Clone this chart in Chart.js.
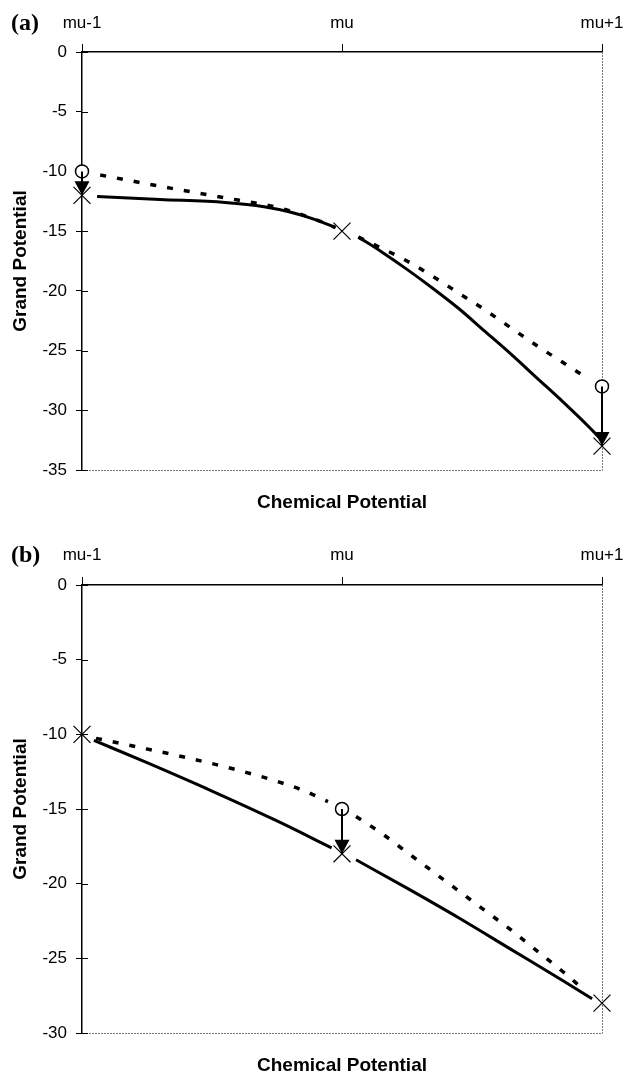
<!DOCTYPE html>
<html><head><meta charset="utf-8">
<script src="https://cdn.jsdelivr.net/npm/chart.js@4.4.1/dist/chart.umd.min.js"></script>
<style>
html,body{margin:0;padding:0;background:#fff;width:632px;height:1074px;overflow:hidden}
.panel{position:absolute;left:0;width:632px;height:537px}
.lab{position:absolute;font:bold 24px/24px "Liberation Serif","Times New Roman",serif;color:#000}
</style></head><body>
<div class="panel" style="top:0"><canvas id="ca" width="632" height="537"></canvas></div>
<div class="panel" style="top:537px"><canvas id="cb" width="632" height="537"></canvas></div>
<div class="lab" style="left:11px;top:10px">(a)</div>
<div class="lab" style="left:11px;top:542px">(b)</div>
<script>
// ---------- data ----------
const categories = ['mu-1', 'mu', 'mu+1'];
const xTitle = 'Chemical Potential';
const yTitle = 'Grand Potential';

// panel (a)
const yMinA = -35, yMaxA = 0, yStepA = 5;
const solidA_x = [0.058, 0.30, 0.55, 0.70, 0.80, 0.90, 0.975, 1.0, 1.063, 1.15, 1.25, 1.35, 1.45, 1.55, 1.65, 1.75, 1.85, 1.95, 1.99];
const solidA_y = [-12.1, -12.35, -12.6, -12.95, -13.4, -14.05, -14.7, null, -15.5, -16.7, -18.2, -19.8, -21.5, -23.4, -25.3, -27.3, -29.3, -31.4, -32.3];
const dotA_x = [0.07, 0.34, 0.60, 0.75, 0.92, 0.975, 1.0, 1.063, 1.15, 1.25, 1.35, 1.45, 1.55, 1.65, 1.75, 1.85, 1.95];
const dotA_y = [-10.3, -11.4, -12.4, -13.0, -14.2, -14.7, null, -15.5, -16.4, -17.5, -18.8, -20.2, -21.6, -23.1, -24.6, -26.0, -27.4];
const crossA_x = [0, 1, 2];
const crossA_y = [-12, -15, -33];
const circleA_x = [0, 2];
const circleA_y = [-10, -28];
const arrowA_x = [0, 2];
const arrowA_from = [-10, -28];
const arrowA_to = [-12, -33];

// panel (b)
const yMinB = -30, yMaxB = 0, yStepB = 5;
const solidB_x = [0.046, 0.25, 0.50, 0.75, 0.96, 1.0, 1.054, 1.25, 1.45, 1.65, 1.85, 1.962];
const solidB_y = [-10.4, -11.9, -13.8, -15.8, -17.6, null, -18.4, -20.3, -22.3, -24.4, -26.5, -27.7];
const dotB_x = [0.054, 0.20, 0.40, 0.60, 0.75, 0.85, 0.946, 1.0, 1.054, 1.15, 1.25, 1.35, 1.45, 1.55, 1.65, 1.75, 1.85, 1.93];
const dotB_y = [-10.27, -10.8, -11.55, -12.4, -13.15, -13.75, -14.5, null, -15.5, -16.6, -17.9, -19.2, -20.5, -21.8, -23.1, -24.5, -25.9, -27.1];
const crossB_x = [0, 1, 2];
const crossB_y = [-10, -18, -28];
const circleB_x = [1];
const circleB_y = [-15];
const arrowB_x = [1];
const arrowB_from = [-15];
const arrowB_to = [-18];

// ---------- helpers ----------
const pts = (xs, ys) => xs.map((x, i) => ({x: x, y: ys[i]}));
function arrowPts(xs, from, to) {
  const out = [];
  xs.forEach((x, i) => {
    if (i > 0) out.push({x: x, y: null});
    out.push({x: x, y: from[i]});
    out.push({x: x, y: to[i]});
  });
  return out;
}

const framePlugin = {
  id: 'frame',
  beforeDatasetsDraw(chart) {
    const {ctx, chartArea: a} = chart;
    const ys = chart.scales.y;
    ctx.save();
    ctx.strokeStyle = '#777';
    ctx.lineWidth = 1;
    ctx.setLineDash([2, 1]);
    ctx.beginPath();
    ctx.moveTo(a.right + 0.5, a.top);
    ctx.lineTo(a.right + 0.5, a.bottom + 0.5);
    ctx.lineTo(a.left, a.bottom + 0.5);
    ctx.stroke();
    ctx.setLineDash([]);
    ctx.strokeStyle = '#000';
    ctx.beginPath();
    ys.ticks.forEach(t => {
      const py = Math.round(ys.getPixelForValue(t.value)) + 0.5;
      ctx.moveTo(a.left, py);
      ctx.lineTo(a.left + 6, py);
    });
    ctx.stroke();
    ctx.restore();
  },
  afterDatasetsDraw(chart, args, opts) {
    const {ctx} = chart;
    const xs = chart.scales.x, ys = chart.scales.y;
    ctx.save();
    ctx.fillStyle = '#000';
    (opts.x || []).forEach((xv, i) => {
      const px = xs.getPixelForValue(xv);
      const py = ys.getPixelForValue(opts.to[i]);
      ctx.beginPath();
      ctx.moveTo(px, py);
      ctx.lineTo(px - 7.5, py - 14);
      ctx.lineTo(px + 7.5, py - 14);
      ctx.closePath();
      ctx.fill();
    });
    ctx.restore();
  }
};

function makeChart(id, d) {
  const font = {family: '"Liberation Sans", Arial, sans-serif', size: 17};
  const tfont = {family: '"Liberation Sans", Arial, sans-serif', size: 19, weight: 'bold', lineHeight: 1};
  return new Chart(document.getElementById(id), {
    type: 'line',
    data: {
      datasets: [
        {data: pts(d.crossX, d.crossY), showLine: false, pointStyle: 'crossRot', pointRadius: 12,
         pointBorderWidth: 1.2, pointBorderColor: '#000', order: 1},
        {data: arrowPts(d.arrowX, d.arrowFrom, d.arrowTo), borderColor: '#000', borderWidth: 2,
         pointRadius: 0, order: 2},
        {data: pts(d.circleX, d.circleY), showLine: false, pointStyle: 'circle', pointRadius: 6.5,
         pointBorderWidth: 1.5, pointBorderColor: '#000', pointBackgroundColor: '#fff', order: 3},
        {data: pts(d.dotX, d.dotY), borderColor: '#000', borderWidth: 3.5, borderDash: [6, 11],
         borderCapStyle: 'butt', pointRadius: 0, cubicInterpolationMode: 'monotone', order: 4},
        {data: pts(d.solidX, d.solidY), borderColor: '#000', borderWidth: 3,
         pointRadius: 0, cubicInterpolationMode: 'monotone', order: 5}
      ].map(ds => Object.assign({xAxisID: 'x', yAxisID: 'y', clip: false, fill: false, spanGaps: false}, ds))
    },
    options: {
      responsive: false,
      animation: false,
      events: [],
      devicePixelRatio: 1,
      layout: {padding: {left: 0, right: 30, top: 0, bottom: 0}},
      plugins: {
        legend: {display: false},
        tooltip: {enabled: false},
        frame: {x: d.arrowX, to: d.arrowTo}
      },
      scales: {
        x: {
          type: 'linear', position: 'top', min: 0, max: categories.length - 1,
          ticks: {stepSize: 1, color: '#000', font: font, padding: d.tickPad, maxRotation: 0,
                  callback: v => categories[v]},
          grid: {drawOnChartArea: false, drawTicks: true, tickLength: 8, color: '#000', lineWidth: 1},
          border: {display: true, color: '#000', width: 1.5},
          afterFit: s => { s.height = d.topH; s.paddingLeft = 0; s.paddingRight = 0; }
        },
        xb: {
          type: 'linear', position: 'bottom', min: 0, max: 1,
          ticks: {display: false}, grid: {display: false}, border: {display: false},
          title: {display: true, text: xTitle, color: '#000', font: tfont, padding: {top: 0, bottom: d.xtPad}},
          afterFit: s => { s.height = d.botH; s.paddingLeft = 0; s.paddingRight = 0; }
        },
        y: {
          type: 'linear', position: 'left', min: d.yMin, max: d.yMax,
          ticks: {stepSize: d.yStep, color: '#000', font: font, padding: 9},
          grid: {drawOnChartArea: false, drawTicks: true, tickLength: 6, color: '#000', lineWidth: 1},
          border: {display: true, color: '#000', width: 1.5},
          title: {display: true, text: yTitle, color: '#000', font: tfont, padding: {top: 11, bottom: 0}},
          afterFit: s => { s.width = 82; s.paddingTop = 0; s.paddingBottom = 0; }
        }
      }
    },
    plugins: [framePlugin]
  });
}

makeChart('ca', {
  yMin: yMinA, yMax: yMaxA, yStep: yStepA, topH: 52, botH: 67, tickPad: 10, xtPad: 25,
  solidX: solidA_x, solidY: solidA_y, dotX: dotA_x, dotY: dotA_y,
  crossX: crossA_x, crossY: crossA_y, circleX: circleA_x, circleY: circleA_y,
  arrowX: arrowA_x, arrowFrom: arrowA_from, arrowTo: arrowA_to
});
makeChart('cb', {
  yMin: yMinB, yMax: yMaxB, yStep: yStepB, topH: 48, botH: 41, tickPad: 11, xtPad: -1,
  solidX: solidB_x, solidY: solidB_y, dotX: dotB_x, dotY: dotB_y,
  crossX: crossB_x, crossY: crossB_y, circleX: circleB_x, circleY: circleB_y,
  arrowX: arrowB_x, arrowFrom: arrowB_from, arrowTo: arrowB_to
});
</script>
</body></html>
